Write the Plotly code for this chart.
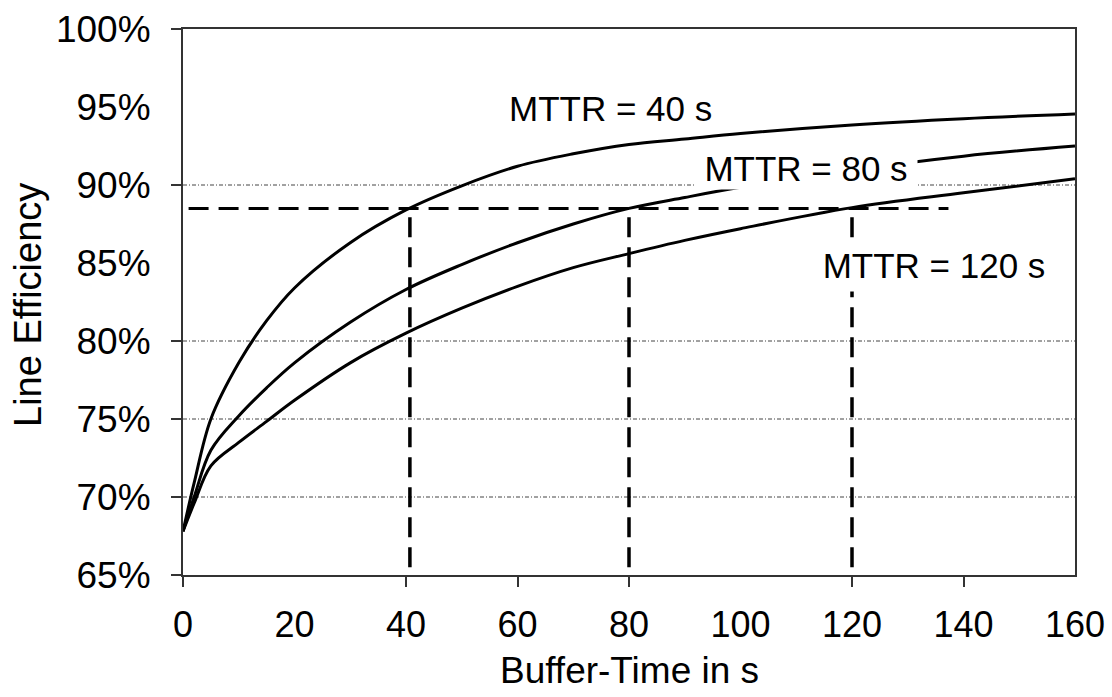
import plotly.graph_objects as go

# ---- data (buffer time in s, line efficiency in %) ----
buffer_time = [0, 2, 5, 10, 15, 20, 30, 40, 50, 60, 70, 80, 90, 100, 120, 140, 160]
mttr40_eff = [67.8, 70.9, 75.0, 78.6, 81.3, 83.4, 86.3, 88.4, 89.95, 91.2, 92.0, 92.6, 92.95, 93.3, 93.85, 94.25, 94.55]
mttr80_eff = [67.8, 70.0, 73.0, 75.2, 77.0, 78.6, 81.2, 83.3, 84.9, 86.3, 87.5, 88.5, 89.2, 89.85, 90.95, 91.85, 92.5]
mttr120_eff = [67.8, 69.6, 72.0, 73.5, 74.85, 76.2, 78.6, 80.5, 82.1, 83.5, 84.7, 85.6, 86.45, 87.2, 88.55, 89.5, 90.4]

target_efficiency = 88.5
target_line_x = [1, 137.3]
required_buffer = [40.7, 80, 120]
drop_bottom = 65.5

grid_levels = [70, 75, 80, 90]
x_ticks = [0, 20, 40, 60, 80, 100, 120, 140, 160]
x_tick_marks = [0, 40, 60, 80, 120, 140]
y_ticks = [65, 70, 75, 80, 85, 90, 95, 100]
y_tick_text = ["65%", "70%", "75%", "80%", "85%", "90%", "95%", "100%"]
y_tick_marks = [65, 70, 75, 80, 90, 100]

labels = ["MTTR = 40 s", "MTTR = 80 s", "MTTR = 120 s"]
label_x = [76.7, 111.7, 134.7]
label_y = [94.9, 91.1, 84.85]

x_title = "Buffer-Time in s"
y_title = "Line Efficiency"

FONT = "Liberation Sans, Arial, sans-serif"
AX = "#333333"

fig = go.Figure()

# dotted grid lines (only at selected levels)
for g in grid_levels:
    fig.add_trace(go.Scatter(x=[x_ticks[0], x_ticks[-1]], y=[g, g], mode="lines",
                             line=dict(color="#444444", width=1, dash="4px,2px,1px,2px"),
                             showlegend=False, hoverinfo="skip"))

# curves
for ys in [mttr40_eff, mttr80_eff, mttr120_eff]:
    fig.add_trace(go.Scatter(x=buffer_time, y=ys, mode="lines",
                             line=dict(color="black", width=3, shape="spline", smoothing=1.0),
                             showlegend=False, hoverinfo="skip"))

# horizontal target line
fig.add_trace(go.Scatter(x=target_line_x, y=[target_efficiency, target_efficiency], mode="lines",
                         line=dict(color="black", width=3, dash="20px,10px"),
                         showlegend=False, hoverinfo="skip"))
# vertical drop lines
for b in required_buffer:
    fig.add_trace(go.Scatter(x=[b, b], y=[drop_bottom, target_efficiency], mode="lines",
                             line=dict(color="black", width=3.5, dash="20px,10px"),
                             showlegend=False, hoverinfo="skip"))

# empty trace for the tick-mark overlay axes
fig.add_trace(go.Scatter(x=[], y=[], xaxis="x2", yaxis="y2", showlegend=False, hoverinfo="skip"))

box_w = [None, 222, 240]
box_h = [None, 42, 52]
for t, lx, ly, w, h in zip(labels, label_x, label_y, box_w, box_h):
    kw = {}
    if w:
        kw = dict(width=w, height=h)
    fig.add_annotation(x=lx, y=ly, xref="x", yref="y", text=t, showarrow=False,
                       font=dict(family=FONT, size=35, color="black"),
                       bgcolor="white", borderpad=0, **kw)

# axis titles
fig.add_annotation(x=0.5, y=0, xref="paper", yref="paper", text=x_title, showarrow=False,
                   xanchor="center", yanchor="middle", yshift=-95,
                   font=dict(family=FONT, size=37, color="black"))
fig.add_annotation(x=0, y=0.5, xref="paper", yref="paper", text=y_title, showarrow=False,
                   textangle=-90, xanchor="center", yanchor="middle", xshift=-155, yshift=-3,
                   font=dict(family=FONT, size=38, color="black"))

fig.update_layout(
    width=1112, height=697,
    margin=dict(l=183, r=37, t=29, b=122),
    paper_bgcolor="white", plot_bgcolor="white",
    font=dict(family=FONT, size=35, color="black"),
    xaxis=dict(range=[0, 160], tickvals=x_ticks, ticks="outside", ticklen=17,
               tickcolor="rgba(0,0,0,0)", showline=True, linecolor=AX, linewidth=2,
               mirror=True, showgrid=False, zeroline=False, automargin=False,
               tickfont=dict(family=FONT, size=36, color="black")),
    yaxis=dict(range=[65, 100], tickvals=y_ticks, ticktext=y_tick_text, ticks="outside", ticklen=23,
               tickcolor="rgba(0,0,0,0)", showline=True, linecolor=AX, linewidth=2,
               mirror=True, showgrid=False, zeroline=False, automargin=False,
               tickfont=dict(family=FONT, size=37, color="black")),
    xaxis2=dict(range=[0, 160], overlaying="x", anchor="y2", tickvals=x_tick_marks,
                ticks="outside", ticklen=11, tickwidth=2, tickcolor=AX, automargin=False,
                showticklabels=False, showline=False, showgrid=False, zeroline=False),
    yaxis2=dict(range=[65, 100], overlaying="y", anchor="x2", tickvals=y_tick_marks,
                ticks="outside", ticklen=11, tickwidth=2, tickcolor=AX, automargin=False,
                showticklabels=False, showline=False, showgrid=False, zeroline=False),
)

fig.write_html("out.html", config={"displayModeBar": False},
               post_script="document.body.style.margin='0';document.body.style.overflow='hidden';")
